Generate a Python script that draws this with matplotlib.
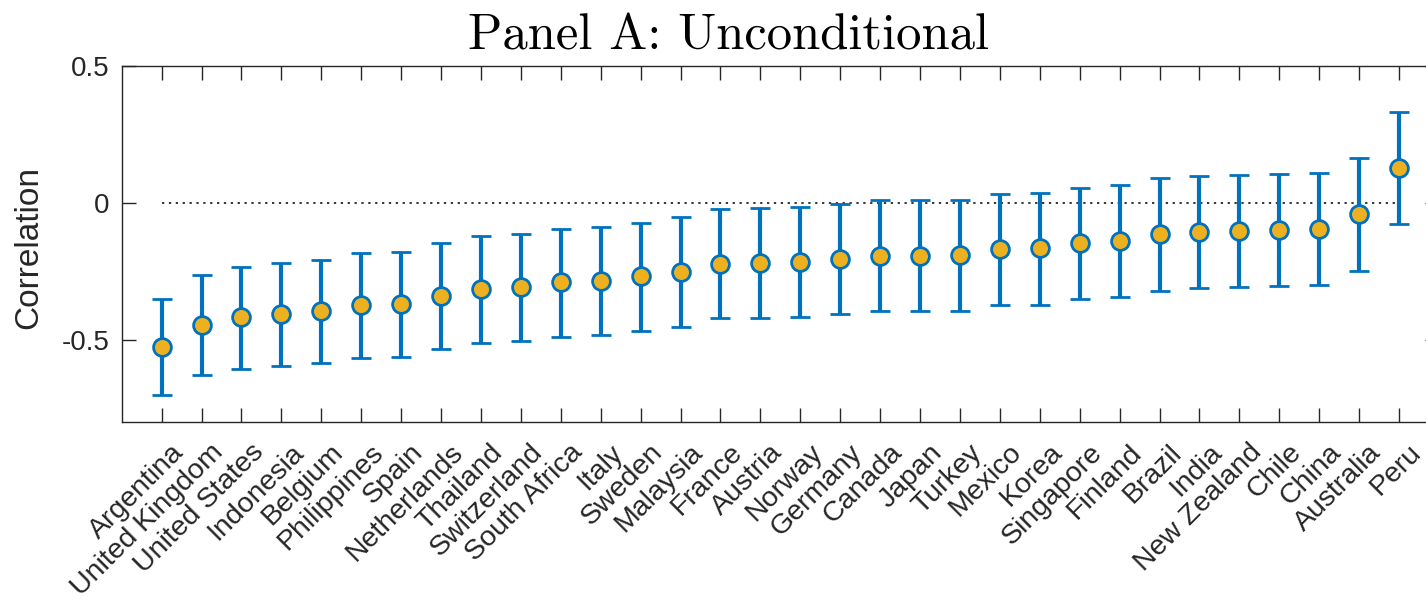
import matplotlib
matplotlib.use("Agg")
import matplotlib.pyplot as plt
from matplotlib.transforms import ScaledTranslation
import numpy as np

# Country-level correlations with confidence bands
countries = [
    "Argentina", "United Kingdom", "United States", "Indonesia", "Belgium",
    "Philippines", "Spain", "Netherlands", "Thailand", "Switzerland",
    "South Africa", "Italy", "Sweden", "Malaysia", "France", "Austria",
    "Norway", "Germany", "Canada", "Japan", "Turkey", "Mexico", "Korea",
    "Singapore", "Finland", "Brazil", "India", "New Zealand", "Chile",
    "China", "Australia", "Peru",
]
corr = [
    -0.527, -0.445, -0.418, -0.405, -0.395, -0.373, -0.369, -0.341,
    -0.314, -0.307, -0.290, -0.285, -0.268, -0.252, -0.222, -0.218,
    -0.215, -0.204, -0.192, -0.193, -0.191, -0.169, -0.164, -0.147,
    -0.140, -0.115, -0.107, -0.101, -0.098, -0.096, -0.040, 0.129,
]
upper = [
    -0.350, -0.262, -0.234, -0.219, -0.208, -0.182, -0.180, -0.147,
    -0.119, -0.113, -0.097, -0.087, -0.074, -0.053, -0.023, -0.018,
    -0.014, -0.003, 0.010, 0.010, 0.010, 0.032, 0.035, 0.056,
    0.064, 0.090, 0.097, 0.103, 0.105, 0.108, 0.164, 0.333,
]
lower = [
    -0.700, -0.628, -0.606, -0.595, -0.583, -0.567, -0.562, -0.534,
    -0.510, -0.505, -0.489, -0.483, -0.468, -0.452, -0.422, -0.420,
    -0.416, -0.404, -0.396, -0.396, -0.394, -0.374, -0.371, -0.351,
    -0.342, -0.320, -0.312, -0.307, -0.303, -0.301, -0.247, -0.076,
]
yticks = [-0.5, 0.0, 0.5]
ytick_labels = ["-0.5", "0", "0.5"]

plt.rcParams["font.family"] = ["Liberation Sans", "DejaVu Sans"]

BLUE = "#0072BD"
GOLD = "#EDB120"
AXC = "#262626"

W, H = 1426, 602
fig = plt.figure(figsize=(W / 100, H / 100), dpi=100)
left, right, bottom, top = 121.7, 1439.0, 422.0, 66.0
ax = fig.add_axes([left / W, 1 - bottom / H, (right - left) / W, (bottom - top) / H])

x = np.arange(1, len(countries) + 1)
c = np.array(corr)
err = np.vstack([c - np.array(lower), np.array(upper) - c])

ax.plot([x[0], x[-1]], [0, 0], color="black", lw=1.1,
        linestyle=(0, (1.5, 3.0)), zorder=1)

ax.errorbar(x, c, yerr=err, fmt="o", color=BLUE, ecolor=BLUE,
            elinewidth=3.0, capsize=7.4, capthick=3.0,
            markersize=12.8, markerfacecolor=GOLD, markeredgecolor=BLUE,
            markeredgewidth=2.0, zorder=3)

ax.set_xlim(0, len(countries) + 1)
ax.set_ylim(-0.8, 0.5)
ax.set_xticks(x)
ax.set_yticks(yticks)

ax.tick_params(axis="both", direction="in", length=10, width=1.0,
               color=AXC, top=True, right=True)
ax.tick_params(axis="x", pad=6)
ax.tick_params(axis="y", pad=9)

ax.set_xticklabels(countries, rotation=45, ha="right", va="top",
                   rotation_mode="anchor", fontsize=20.5, color=AXC)
ax.set_yticklabels(ytick_labels, fontsize=20, color=AXC)

# nudge the slanted country names down and to the right
shift = ScaledTranslation(9 / 100, -9 / 100, fig.dpi_scale_trans)
for lab in ax.get_xticklabels():
    lab.set_transform(lab.get_transform() + shift)

for s in ax.spines.values():
    s.set_color(AXC)
    s.set_linewidth(1.0)

ax.set_ylabel("Correlation", fontsize=24, color=AXC)
ax.yaxis.set_label_coords((44 - left) / (right - left), 0.49)

fig.text(729 / W, 1 - 37 / H, "Panel A: Unconditional",
         ha="center", va="center", fontsize=36.5, color="black",
         fontname="cmr10")

fig.savefig("out.png", dpi=100)
